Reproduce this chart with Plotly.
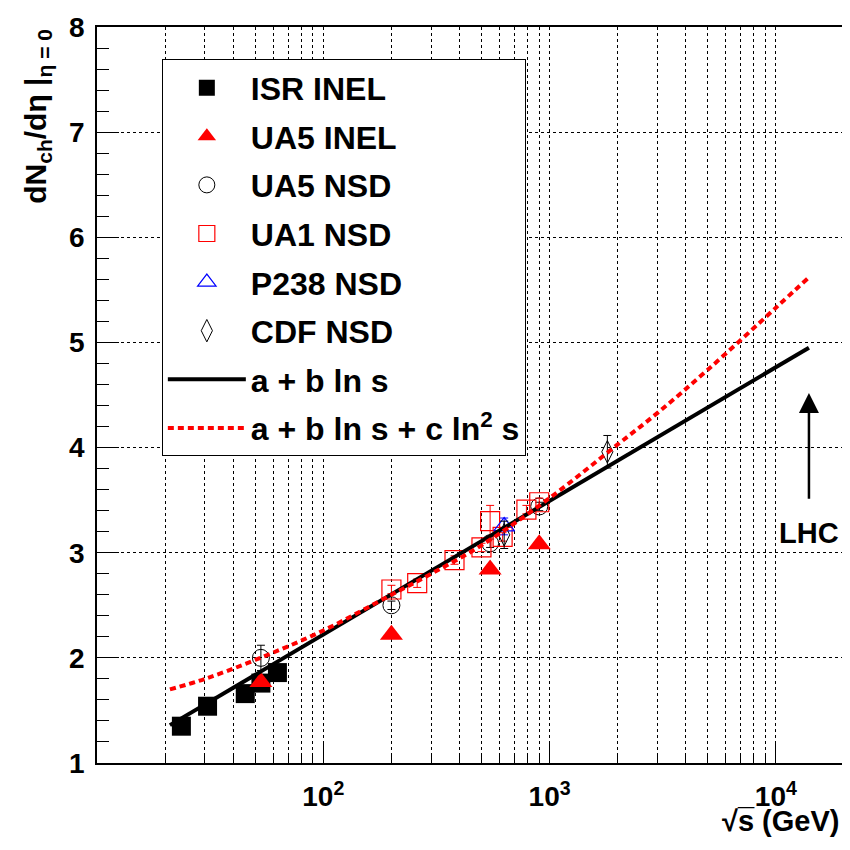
import math
import plotly.graph_objects as go

# ---------------- data ----------------
isr_x = [23.6, 30.8, 45.2, 53.0, 62.7]
isr_y = [1.35, 1.54, 1.66, 1.76, 1.86]

ua5_inel_x = [53, 200, 546, 900]
ua5_inel_y = [1.77, 2.22, 2.84, 3.08]

ua5_nsd_x = [53, 200, 546, 900]
ua5_nsd_y = [2.00, 2.50, 3.09, 3.44]
ua5_nsd_err = [0.12, 0.04, 0.04, 0.04]

ua1_x = [200, 260, 380, 500, 546, 620, 790, 900]
ua1_y = [2.65, 2.71, 2.93, 3.05, 3.30, 3.15, 3.41, 3.48]
ua1_err = [0.04, 0.04, 0.04, 0.04, 0.15, 0.04, 0.04, 0.04]

p238_x = [630]
p238_y = [3.25]
p238_err = [0.08]

cdf_x = [630, 1800]
cdf_y = [3.17, 3.96]
cdf_err = [0.13, 0.155]

lin_x = [21, 14000]
lin_y = [1.36, 4.95]

quad_x = [21, 30, 50, 100, 200, 300, 500, 1000, 2000, 3000, 5000, 10000, 14000]
quad_y = [1.70, 1.80, 1.98, 2.26, 2.60, 2.80, 3.07, 3.52, 4.03, 4.33, 4.74, 5.33, 5.62]

x_tickvals = [100, 1000, 10000]
x_ticktext = ["10<sup>2</sup>", "10<sup>3</sup>", "10<sup>4</sup>"]
y_tickvals = [1, 2, 3, 4, 5, 6, 7, 8]

lhc_energy = 14000
lhc_arrow_from = 3.50
lhc_arrow_to = 4.52

FONT = "Liberation Sans"

fig = go.Figure()

def err(arr, color="black"):
    return dict(type="data", array=arr, visible=True, thickness=1, width=4, color=color)

fig.add_trace(go.Scatter(x=isr_x, y=isr_y, mode="markers", name="ISR INEL", legendrank=1,
                         marker=dict(symbol="square", size=19, color="black")))
fig.add_trace(go.Scatter(x=ua5_nsd_x, y=ua5_nsd_y, mode="markers", name="UA5 NSD", legendrank=3,
                         error_y=err(ua5_nsd_err),
                         marker=dict(symbol="circle-open", size=17, color="black", line=dict(width=1))))
fig.add_trace(go.Scatter(x=ua5_inel_x, y=ua5_inel_y, mode="markers", name="UA5 INEL", legendrank=2,
                         marker=dict(symbol="triangle-up", size=20, color="red")))
fig.add_trace(go.Scatter(x=ua1_x, y=ua1_y, mode="markers", name="UA1 NSD", legendrank=4,
                         error_y=err(ua1_err, "red"),
                         marker=dict(symbol="square-open", size=19, color="red", line=dict(width=1.2))))
fig.add_trace(go.Scatter(x=p238_x, y=p238_y, mode="markers", name="P238 NSD", legendrank=5,
                         error_y=err(p238_err, "blue"),
                         marker=dict(symbol="triangle-up-open", size=18, color="blue", line=dict(width=1.2))))
fig.add_trace(go.Scatter(x=cdf_x, y=cdf_y, mode="markers", name="CDF NSD", legendrank=6,
                         error_y=err(cdf_err),
                         marker=dict(symbol="diamond-tall-open", size=16, color="black", line=dict(width=1))))
fig.add_trace(go.Scatter(x=lin_x, y=lin_y, mode="lines", name="a + b ln s", legendrank=7,
                         line=dict(color="black", width=4)))
fig.add_trace(go.Scatter(x=quad_x, y=quad_y, mode="lines", name="a + b ln s + c ln<sup>2</sup> s", legendrank=8,
                         line=dict(color="red", width=4, dash="6px,4px", shape="spline", smoothing=1.0)))

for i, tr in enumerate(fig.data):
    tr.legendgroup = "g%d" % i

# page body has an 8px margin: figure is 842 wide, plot area at page x 97..846, y 18..763
fig.update_layout(
    width=842, height=842,
    margin=dict(l=89, r=4, t=10, b=87),
    paper_bgcolor="white", plot_bgcolor="white",
    font=dict(family=FONT, color="black"),
    showlegend=True,
    legend=dict(x=0.0868, y=0.956, xanchor="left", yanchor="top",
                bgcolor="white", bordercolor="black", borderwidth=1,
                font=dict(family=FONT, size=32, weight="bold", color="black"),
                itemwidth=78, tracegroupgap=4, traceorder="grouped"),
)

fig.update_xaxes(
    type="log", range=[1, 4.301],
    tickvals=x_tickvals, ticktext=x_ticktext,
    tickfont=dict(family=FONT, size=28, weight="bold", color="black"),
    ticks="inside", ticklen=21, tickcolor="black", tickwidth=1,
    showline=True, linecolor="black", linewidth=1.5, mirror=True,
    showgrid=True, gridcolor="black", gridwidth=1, griddash="dot",
    minor=dict(ticks="inside", ticklen=10, tickcolor="black", dtick="D1",
               showgrid=True, gridcolor="black", gridwidth=1, griddash="dot"),
    zeroline=False, ticklabelstandoff=8, ticklabeloverflow="allow",
)
fig.update_yaxes(
    range=[1, 8], tickvals=y_tickvals,
    tickfont=dict(family=FONT, size=28, weight="bold", color="black"),
    ticks="inside", ticklen=22, tickcolor="black", tickwidth=1,
    showline=True, linecolor="black", linewidth=1.5, mirror=True,
    showgrid=True, gridcolor="black", gridwidth=1, griddash="dot",
    minor=dict(ticks="inside", ticklen=12, tickcolor="black", dtick=0.2, showgrid=False),
    zeroline=False, ticklabelstandoff=5, ticklabeloverflow="allow",
)

fig.add_annotation(x=math.log10(lhc_energy), y=lhc_arrow_to, ax=math.log10(lhc_energy), ay=lhc_arrow_from,
                   xref="x", yref="y", axref="x", ayref="y", text="", showarrow=True,
                   arrowhead=2, arrowsize=1.6, arrowwidth=2.5, arrowcolor="black", standoff=0)
fig.add_annotation(x=math.log10(lhc_energy), y=lhc_arrow_from - 0.14, xref="x", yref="y",
                   text="<b>LHC</b>", showarrow=False, yanchor="top", xanchor="center",
                   font=dict(family=FONT, size=29, color="black"))

fig.add_annotation(x=0.996, y=-0.079, xref="paper", yref="paper", xanchor="right", yanchor="middle",
                   text="<b>√s\u0305 (GeV)</b>", showarrow=False,
                   font=dict(family=FONT, size=29, color="black"))
fig.add_annotation(x=-0.08, y=1.0, xref="paper", yref="paper", xanchor="center", yanchor="top",
                   textangle=-90, showarrow=False,
                   text="<b>dN<sub>ch</sub>/dη |<sub>η = 0</sub></b>",
                   font=dict(family=FONT, size=30, color="black"))

fig.write_html("out.html")
